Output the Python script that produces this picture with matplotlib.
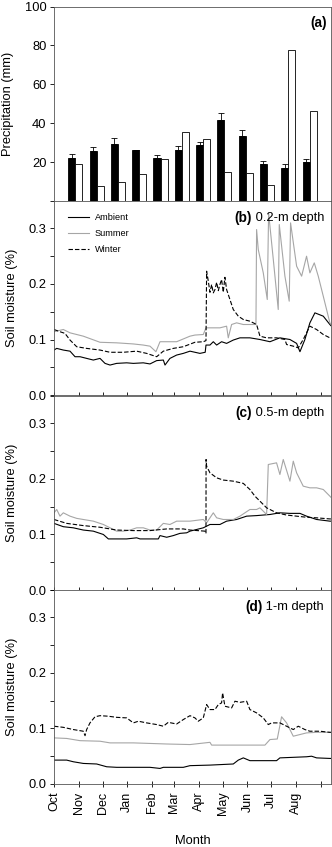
import numpy as np
import matplotlib
matplotlib.use("Agg")
import matplotlib.pyplot as plt
from matplotlib.ticker import MultipleLocator

plt.rcParams['font.family'] = ['Liberation Sans', 'DejaVu Sans']

# (a) monthly precipitation
ambient_prec = [22.2, 25.6, 29.5, 26.1, 21.9, 26.1, 29.0, 41.7, 33.2, 18.8, 17.1, 20.0]
ambient_err = [2.0, 2.2, 2.7, 0.3, 1.7, 2.0, 1.5, 3.7, 3.1, 2.0, 1.9, 1.5]
treat_prec = [19.2, 7.5, 9.8, 14.1, 21.7, 35.6, 31.7, 15.1, 14.4, 8.3, 77.6, 46.1]

# month ticks (days since 1 Oct)
month_days = [0, 31, 61, 92, 123, 151, 182, 212, 243, 273, 304, 335]
month_labels = ['Oct', 'Nov', 'Dec', 'Jan', 'Feb', 'Mar', 'Apr', 'May', 'Jun', 'Jul', 'Aug', '']

# (b) 0.2 m
b_amb_d = [0, 3.4, 11.7, 20.1, 26.4, 32.7, 41, 49.4, 57.8, 64.1, 70.4, 78.7, 91.3, 99.7, 112.2,
           120.6, 129, 137.4, 139.5, 145.7, 154.1, 162.5, 170.9, 183.4, 190, 191, 196, 200.2, 204.4,
           210.6, 216.9, 225.3, 233.7, 246.2, 258.8, 271.4, 283.9, 296.5, 304.9, 309.1, 315.3,
           321.6, 327.9, 338.4, 346.7, 348]
b_amb_v = [0.081, 0.084, 0.081, 0.079, 0.069, 0.069, 0.066, 0.063, 0.066, 0.057, 0.054, 0.057, 0.058,
           0.057, 0.058, 0.056, 0.062, 0.063, 0.054, 0.066, 0.072, 0.075, 0.079, 0.075, 0.077, 0.090,
           0.090, 0.096, 0.090, 0.096, 0.093, 0.099, 0.103, 0.103, 0.100, 0.096, 0.103, 0.100, 0.093,
           0.078, 0.100, 0.130, 0.148, 0.142, 0.127, 0.125]
b_sum_d = [0, 11.7, 20.1, 36.8, 57.8, 78.7, 99.7, 112.2, 120.6, 128.1, 133.2, 154.1, 170.9, 177.1,
           187.6, 191, 200.2, 208.5, 216.9, 219, 223.2, 229.5, 237.9, 250.4, 253.8, 254.6, 256.7, 263,
           268, 269.7, 275.6, 281.8, 283.1, 290.2, 295.6, 297.3, 304.9, 311.2, 317.4, 321.6, 327.1,
           332.1, 338.4, 346.7, 348]
b_sum_v = [0.114, 0.118, 0.112, 0.106, 0.095, 0.094, 0.092, 0.090, 0.088, 0.078, 0.096, 0.096, 0.106,
           0.108, 0.109, 0.121, 0.121, 0.121, 0.124, 0.103, 0.127, 0.130, 0.127, 0.127, 0.127, 0.298,
           0.262, 0.220, 0.172, 0.328, 0.244, 0.154, 0.307, 0.214, 0.169, 0.310, 0.232, 0.214, 0.250,
           0.220, 0.238, 0.214, 0.178, 0.130, 0.128]
b_win_d = [0, 7.5, 13.8, 20.1, 28.5, 41, 57.8, 70.4, 87.1, 103.9, 116.4, 129, 137.4, 149.9, 162.5,
           177.1, 187.6, 191, 191.8, 193.9, 196, 198.1, 200.2, 202.3, 204.4, 206.5, 208.5, 210.6,
           212.7, 214.8, 216.9, 221.1, 225.3, 231.6, 237.9, 246.2, 254.6, 258.8, 267.2, 279.7, 290.2,
           292.3, 300.7, 307, 313.2, 321.6, 330, 338.4, 346.7, 348]
b_win_v = [0.118, 0.114, 0.111, 0.099, 0.087, 0.084, 0.081, 0.077, 0.077, 0.079, 0.075, 0.069, 0.079,
           0.084, 0.087, 0.095, 0.096, 0.098, 0.223, 0.205, 0.185, 0.199, 0.184, 0.190, 0.203, 0.188,
           0.199, 0.208, 0.185, 0.212, 0.190, 0.172, 0.154, 0.142, 0.136, 0.133, 0.127, 0.106, 0.103,
           0.103, 0.100, 0.091, 0.088, 0.085, 0.100, 0.124, 0.118, 0.109, 0.103, 0.103]

# (c) 0.5 m
c_amb_d = [0, 11.7, 24.3, 36.8, 49.4, 62, 68.3, 78.7, 91.3, 103.9, 108.1, 120.6, 131.1, 133.2, 141.6,
           149.9, 158.3, 166.7, 170.9, 187.6, 196, 208.5, 216.9, 229.5, 242.1, 254.6, 271.4, 283.9,
           296.5, 309.1, 317.4, 330, 346.7, 348]
c_amb_v = [0.120, 0.114, 0.112, 0.108, 0.106, 0.100, 0.092, 0.092, 0.092, 0.094, 0.092, 0.092, 0.092,
           0.098, 0.095, 0.098, 0.102, 0.103, 0.106, 0.112, 0.118, 0.118, 0.124, 0.127, 0.133, 0.134,
           0.136, 0.139, 0.138, 0.138, 0.133, 0.127, 0.124, 0.124]
c_sum_d = [0, 3.4, 7.5, 11.7, 20.1, 28.5, 36.8, 49.4, 62, 70.4, 78.7, 87.1, 95.5, 103.9, 112.2, 120.6,
           129, 137.4, 145.7, 154.1, 162.5, 170.9, 187.6, 191.8, 200.2, 204.4, 212.7, 225.3, 233.7,
           246.2, 254.6, 258.8, 267.2, 269.3, 279.7, 283.9, 288.1, 296.5, 300.7, 304.9, 313.2, 321.6,
           330, 338.4, 346.7, 348]
c_sum_v = [0.139, 0.145, 0.133, 0.139, 0.133, 0.129, 0.127, 0.124, 0.118, 0.112, 0.106, 0.106, 0.108,
           0.112, 0.112, 0.108, 0.108, 0.120, 0.118, 0.124, 0.124, 0.124, 0.127, 0.121, 0.139, 0.130,
           0.127, 0.127, 0.133, 0.145, 0.145, 0.148, 0.136, 0.226, 0.229, 0.208, 0.235, 0.196, 0.232,
           0.211, 0.187, 0.184, 0.184, 0.181, 0.169, 0.167]
c_win_d = [0, 15.9, 36.8, 57.8, 78.7, 99.7, 120.6, 141.6, 162.5, 170.9, 189.7, 191, 191.1, 191.8, 196,
           204.4, 212.7, 225.3, 237.9, 246.2, 252.5, 258.8, 267.2, 279.7, 292.3, 304.9, 317.4, 330,
           346.7, 348]
c_win_v = [0.127, 0.120, 0.116, 0.113, 0.108, 0.107, 0.107, 0.110, 0.110, 0.108, 0.106, 0.102, 0.235,
           0.223, 0.211, 0.202, 0.198, 0.196, 0.192, 0.181, 0.169, 0.160, 0.148, 0.139, 0.135, 0.133,
           0.131, 0.130, 0.128, 0.128]

# (d) 1 m
d_amb_d = [0, 15.9, 24.3, 36.8, 53.6, 66.2, 78.7, 99.7, 120.6, 133.2, 137.4, 162.5, 170.9, 196, 225.3,
           231.6, 237.9, 246.2, 279.7, 283.9, 317.4, 323.7, 330, 346.7, 348]
d_amb_v = [0.043, 0.043, 0.040, 0.037, 0.036, 0.031, 0.030, 0.030, 0.030, 0.028, 0.030, 0.030, 0.033,
           0.034, 0.036, 0.043, 0.047, 0.042, 0.042, 0.047, 0.049, 0.050, 0.047, 0.046, 0.046]
d_sum_d = [0, 15.9, 32.7, 57.8, 70.4, 99.7, 120.6, 141.6, 170.9, 196, 198.1, 233.7, 265.1, 271.4, 280.6,
           286, 292.3, 300.7, 317.4, 330, 348]
d_sum_v = [0.083, 0.082, 0.078, 0.077, 0.074, 0.074, 0.073, 0.072, 0.071, 0.075, 0.070, 0.070, 0.070,
           0.080, 0.081, 0.121, 0.110, 0.086, 0.092, 0.093, 0.093]
d_win_d = [0, 11.7, 24.3, 36.8, 39, 41, 45.2, 51.5, 57.8, 68.3, 78.7, 91.3, 99.7, 106, 116.4, 129,
           137.4, 143.6, 154.1, 162.5, 170.9, 177.1, 181.3, 187.6, 191.8, 196, 202.3, 206.5, 210.6,
           211.9, 214.8, 223.2, 227.4, 233.7, 242.1, 246.2, 254.6, 263, 269.3, 273.5, 283.9, 292.3,
           300.7, 307, 315.3, 321.6, 334.2, 346.7, 348]
d_win_v = [0.104, 0.102, 0.098, 0.095, 0.087, 0.098, 0.110, 0.121, 0.123, 0.122, 0.120, 0.119, 0.110,
           0.113, 0.110, 0.107, 0.104, 0.111, 0.108, 0.116, 0.123, 0.119, 0.113, 0.119, 0.143, 0.134,
           0.134, 0.143, 0.146, 0.164, 0.140, 0.137, 0.149, 0.147, 0.149, 0.134, 0.128, 0.119, 0.107,
           0.110, 0.110, 0.104, 0.098, 0.104, 0.098, 0.095, 0.095, 0.093, 0.093]

panels = [
    ('(b)', ' 0.2-m depth', b_amb_d, b_amb_v, b_sum_d, b_sum_v, b_win_d, b_win_v),
    ('(c)', ' 0.5-m depth', c_amb_d, c_amb_v, c_sum_d, c_sum_v, c_win_d, c_win_v),
    ('(d)', ' 1-m depth', d_amb_d, d_amb_v, d_sum_d, d_sum_v, d_win_d, d_win_v),
]

FS = 9.3

fig = plt.figure(figsize=(3.32, 8.47), dpi=100)
L, W, H = 0.1627, 0.834, 0.2295
bottoms = [0.7627, 0.5336, 0.3034, 0.0744]
axes = [fig.add_axes([L, b, W, H]) for b in bottoms]

gray = '#a6a6a6'

# precipitation panel
ax = axes[0]
x = np.arange(1, 13)
bw = 0.33
ax.bar(x - bw / 2, ambient_prec, bw, color='black', edgecolor='black', linewidth=0.6,
       yerr=[np.zeros(12), ambient_err], error_kw=dict(ecolor='black', elinewidth=0.6,
                                                    capsize=2.5, capthick=0.6))
ax.bar(x + bw / 2, treat_prec, bw, color='white', edgecolor='black', linewidth=0.6)
ax.set_xlim(0, 13)
ax.set_ylim(0, 100)
ax.set_yticks([20, 40, 60, 80, 100])
ax.set_xticks([])
ax.set_ylabel('Precipitation (mm)', fontsize=FS, labelpad=8)
ax.text(0.985, 0.915, '(a)', transform=ax.transAxes, ha='right', va='center',
        fontsize=FS + 0.5, fontweight='bold')
ax.tick_params(axis='y', direction='out', length=3, width=0.6, labelsize=FS, pad=2.5)

for ax, (lab, depth, ad, av, sd, sv, wd, wv) in zip(axes[1:], panels):
    ax.plot(ad, av, color='black', lw=0.8, label='Ambient')
    ax.plot(sd, sv, color=gray, lw=0.8, label='Summer')
    ax.plot(wd, wv, color='black', lw=0.8, ls=(0, (4, 1.8)), label='Winter')
    ax.set_xlim(0, 348)
    ax.set_ylim(0, 0.35)
    ax.set_yticks([0.0, 0.1, 0.2, 0.3])
    ax.set_yticklabels(['0.0', '0.1', '0.2', '0.3'])
    ax.yaxis.set_minor_locator(MultipleLocator(0.05))
    ax.set_xticks(month_days)
    ax.set_xticklabels([])
    ax.set_ylabel('Soil moisture (%)', fontsize=FS, labelpad=7.5)
    ax.tick_params(axis='y', which='both', direction='out', length=3, width=0.6,
                   labelsize=FS, pad=2.5)
    ax.tick_params(axis='x', direction='inout', length=5, width=0.6)
    t1 = ax.text(0.975, 0.91, depth, transform=ax.transAxes, ha='right', va='center',
                 fontsize=FS)
    fig.canvas.draw()
    bb = t1.get_window_extent().transformed(ax.transAxes.inverted())
    ax.text(bb.x0, 0.91, lab, transform=ax.transAxes, ha='right', va='center',
            fontsize=FS + 0.5, fontweight='bold')

axes[1].legend(loc='upper left', frameon=False, fontsize=6.6, handlelength=2.3,
               borderaxespad=0.55, labelspacing=0.75, handletextpad=0.6,
               bbox_to_anchor=(0.02, 0.98))

axes[-1].set_xticklabels(month_labels, rotation=90, fontsize=9)
axes[-1].tick_params(axis='x', pad=3)
axes[-1].set_xlabel('Month', fontsize=FS, labelpad=14)

for ax in axes:
    for s in ax.spines.values():
        s.set_linewidth(0.6)
        s.set_color('#555555')

fig.savefig('out.png', dpi=100)
